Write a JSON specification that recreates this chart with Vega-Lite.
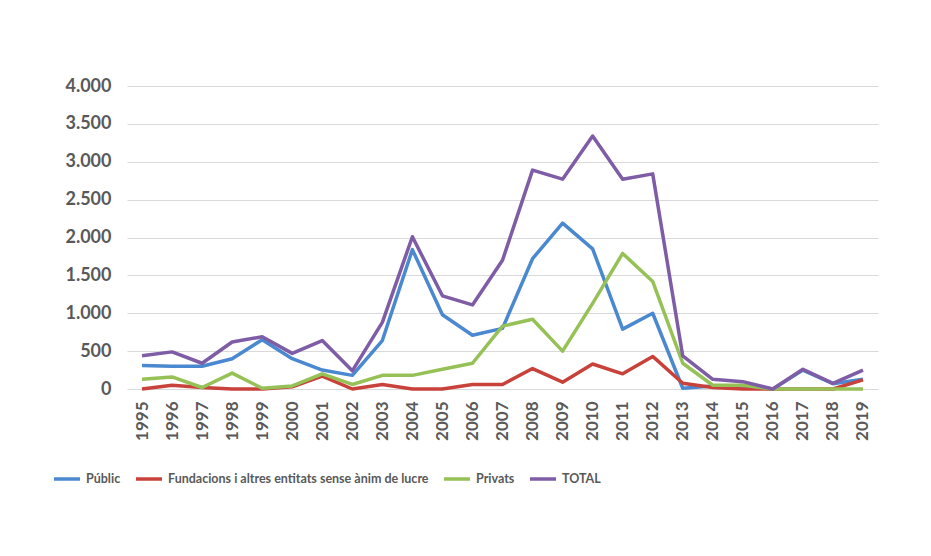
{
  "$schema": "https://vega.github.io/schema/vega-lite/v6.json",
  "autosize": "none",
  "width": 751,
  "height": 303,
  "padding": {"left": 127, "top": 86, "right": 53, "bottom": 167},
  "background": "white",
  "config": {"view": {"stroke": null}},
  "data": {
    "values": [
      {"year": "1995", "Públic": 310, "Fundacions i altres entitats sense ànim de lucre": 0, "Privats": 130, "TOTAL": 440},
      {"year": "1996", "Públic": 300, "Fundacions i altres entitats sense ànim de lucre": 50, "Privats": 160, "TOTAL": 490},
      {"year": "1997", "Públic": 300, "Fundacions i altres entitats sense ànim de lucre": 20, "Privats": 20, "TOTAL": 340},
      {"year": "1998", "Públic": 400, "Fundacions i altres entitats sense ànim de lucre": 0, "Privats": 210, "TOTAL": 620},
      {"year": "1999", "Públic": 650, "Fundacions i altres entitats sense ànim de lucre": 0, "Privats": 10, "TOTAL": 690},
      {"year": "2000", "Públic": 400, "Fundacions i altres entitats sense ànim de lucre": 30, "Privats": 40, "TOTAL": 470},
      {"year": "2001", "Públic": 250, "Fundacions i altres entitats sense ànim de lucre": 170, "Privats": 200, "TOTAL": 640},
      {"year": "2002", "Públic": 180, "Fundacions i altres entitats sense ànim de lucre": 0, "Privats": 60, "TOTAL": 240},
      {"year": "2003", "Públic": 640, "Fundacions i altres entitats sense ànim de lucre": 60, "Privats": 180, "TOTAL": 880},
      {"year": "2004", "Públic": 1840, "Fundacions i altres entitats sense ànim de lucre": 0, "Privats": 180, "TOTAL": 2010},
      {"year": "2005", "Públic": 980, "Fundacions i altres entitats sense ànim de lucre": 0, "Privats": 260, "TOTAL": 1230},
      {"year": "2006", "Públic": 710, "Fundacions i altres entitats sense ànim de lucre": 60, "Privats": 340, "TOTAL": 1110},
      {"year": "2007", "Públic": 800, "Fundacions i altres entitats sense ànim de lucre": 60, "Privats": 830, "TOTAL": 1700},
      {"year": "2008", "Públic": 1720, "Fundacions i altres entitats sense ànim de lucre": 270, "Privats": 920, "TOTAL": 2890},
      {"year": "2009", "Públic": 2190, "Fundacions i altres entitats sense ànim de lucre": 90, "Privats": 500, "TOTAL": 2770},
      {"year": "2010", "Públic": 1850, "Fundacions i altres entitats sense ànim de lucre": 330, "Privats": 1130, "TOTAL": 3340},
      {"year": "2011", "Públic": 790, "Fundacions i altres entitats sense ànim de lucre": 200, "Privats": 1790, "TOTAL": 2770},
      {"year": "2012", "Públic": 1000, "Fundacions i altres entitats sense ànim de lucre": 430, "Privats": 1420, "TOTAL": 2840},
      {"year": "2013", "Públic": 10, "Fundacions i altres entitats sense ànim de lucre": 75, "Privats": 340, "TOTAL": 436},
      {"year": "2014", "Públic": 40, "Fundacions i altres entitats sense ànim de lucre": 20, "Privats": 50, "TOTAL": 128},
      {"year": "2015", "Públic": 40, "Fundacions i altres entitats sense ànim de lucre": 0, "Privats": 50, "TOTAL": 97},
      {"year": "2016", "Públic": 0, "Fundacions i altres entitats sense ànim de lucre": 0, "Privats": 0, "TOTAL": 0},
      {"year": "2017", "Públic": 250, "Fundacions i altres entitats sense ànim de lucre": 0, "Privats": 0, "TOTAL": 260},
      {"year": "2018", "Públic": 70, "Fundacions i altres entitats sense ànim de lucre": 0, "Privats": 0, "TOTAL": 75},
      {"year": "2019", "Públic": 130, "Fundacions i altres entitats sense ànim de lucre": 120, "Privats": 0, "TOTAL": 250}
    ]
  },
  "transform": [
    {"fold": ["Públic", "Fundacions i altres entitats sense ànim de lucre", "Privats", "TOTAL"], "as": ["serie", "value"]}
  ],
  "mark": {"type": "line", "strokeWidth": 3.5, "strokeJoin": "round"},
  "encoding": {
    "x": {
      "field": "year",
      "type": "ordinal",
      "scale": {"type": "point", "padding": 0.5},
      "axis": {
        "title": null,
        "labelAngle": -90,
        "labelAlign": "right",
        "labelBaseline": "middle",
        "labelPadding": 12,
        "labelFont": "Lato",
        "labelFontWeight": "bold",
        "labelFontSize": 17,
        "labelColor": "#595959",
        "ticks": false,
        "domain": false,
        "grid": false
      }
    },
    "y": {
      "field": "value",
      "type": "quantitative",
      "scale": {"domain": [0, 4000]},
      "axis": {
        "title": null,
        "values": [0, 500, 1000, 1500, 2000, 2500, 3000, 3500, 4000],
        "labelExpr": "replace(format(datum.value, ','), ',', '.')",
        "labelFont": "Lato",
        "labelFontWeight": "bold",
        "labelFontSize": 18,
        "labelColor": "#595959",
        "labelPadding": 16,
        "ticks": false,
        "domain": false,
        "gridColor": "#d9d9d9",
        "gridWidth": 1
      }
    },
    "color": {
      "field": "serie",
      "type": "nominal",
      "scale": {
        "domain": ["Públic", "Fundacions i altres entitats sense ànim de lucre", "Privats", "TOTAL"],
        "range": ["#4a89cf", "#c8423b", "#96c156", "#7e5ca6"]
      },
      "legend": {
        "title": null,
        "orient": "none",
        "direction": "horizontal",
        "legendX": -75,
        "legendY": 378,
        "symbolType": "stroke",
        "symbolSize": 680,
        "symbolStrokeWidth": 3.5,
        "labelFont": "Lato",
        "labelFontWeight": "bold",
        "labelFontSize": 12.5,
        "labelColor": "#595959",
        "labelOffset": 4,
        "columnPadding": 7,
        "labelLimit": 400
      }
    }
  }
}
